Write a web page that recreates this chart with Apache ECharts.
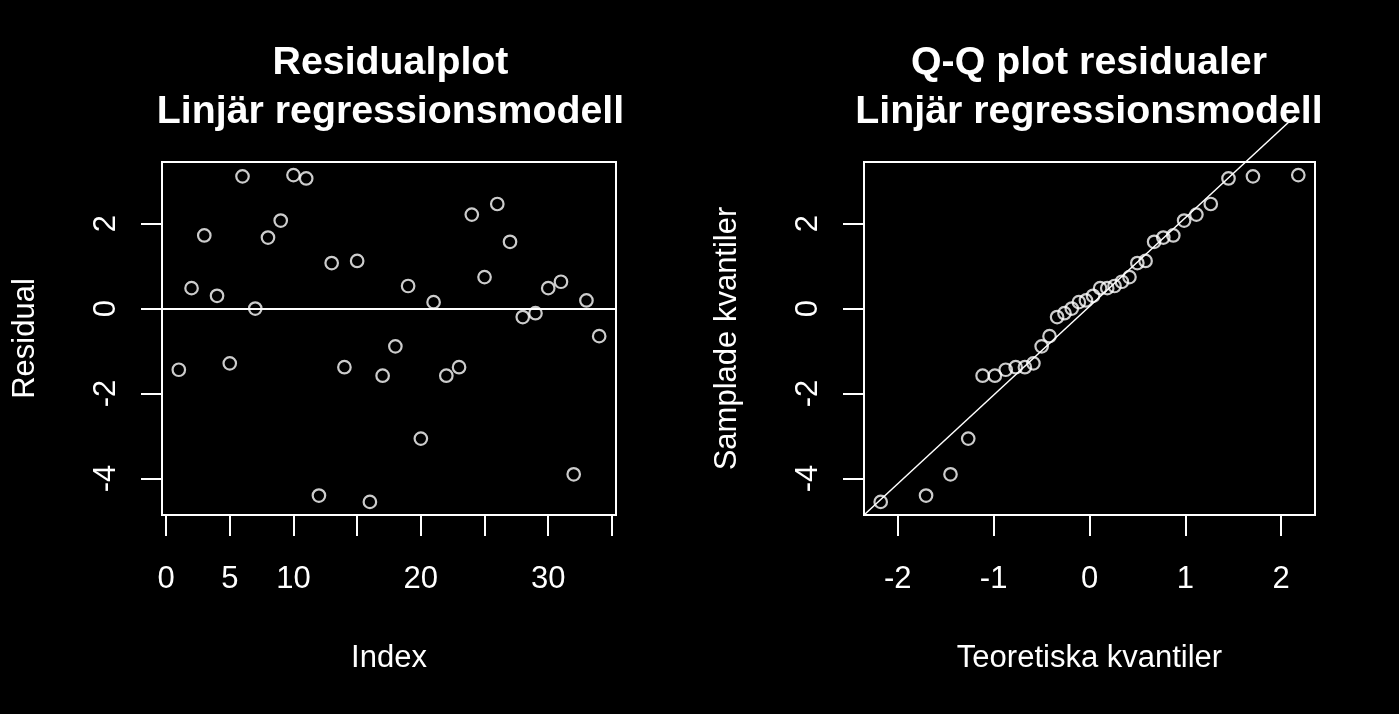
<!DOCTYPE html>
<html>
<head>
<meta charset="utf-8">
<script src="https://cdn.jsdelivr.net/npm/echarts@6/dist/echarts.min.js"></script>
<style>
html,body{margin:0;padding:0;background:#000;}
#chart{width:1399px;height:714px;}
</style>
</head>
<body>
<div id="chart"></div>
<script>
// ---- data ----
var residuals = [-1.44, 0.48, 1.72, 0.30, -1.29, 3.11, 0.00, 1.67, 2.07, 3.14,
                 3.06, -4.40, 1.07, -1.38, 1.12, -4.55, -1.58, -0.89, 0.53, -3.06,
                 0.15, -1.58, -1.38, 2.21, 0.74, 2.46, 1.57, -0.20, -0.11, 0.48,
                 0.63, -3.90, 0.19, -0.65];
var theoreticalQuantiles = [-2.178, -1.705, -1.450, -1.265, -1.115, -0.987, -0.874, -0.770, -0.674, -0.585,
                            -0.499, -0.417, -0.338, -0.261, -0.185, -0.111, -0.037, 0.037, 0.111, 0.185,
                            0.261, 0.338, 0.417, 0.499, 0.585, 0.674, 0.770, 0.874, 0.987, 1.115,
                            1.265, 1.450, 1.705, 2.178];
var indexTicks = [0, 5, 10, 15, 20, 25, 30, 35];
var indexLabels = [0, 5, 10, 20, 30];
var residTicks = [-4, -2, 0, 2];
var qqXTicks = [-2, -1, 0, 1, 2];
var qqLineXEnd = 2.15;
var leftTitle = 'Residualplot\nLinjär regressionsmodell';
var rightTitle = 'Q-Q plot residualer\nLinjär regressionsmodell';

// ---- derived ----
function ext(lo, hi) { var r = hi - lo; return [lo - 0.04 * r, hi + 0.04 * r]; }
var n = residuals.length;
var idxRange = ext(1, n);
var yRange = ext(Math.min.apply(null, residuals), Math.max.apply(null, residuals));
var qxRange = ext(theoreticalQuantiles[0], theoreticalQuantiles[n - 1]);
var sorted = residuals.slice().sort(function (a, b) { return a - b; });
function q7(arr, p) { var h = (arr.length - 1) * p; var lo = Math.floor(h); return arr[lo] + (h - lo) * (arr[lo + 1] - arr[lo]); }
var yq1 = q7(sorted, 0.25), yq3 = q7(sorted, 0.75);
var zq = 0.6745;
var slope = (yq3 - yq1) / (2 * zq);
var intercept = yq1 + slope * zq;
var qqLine = [[qxRange[0], intercept + slope * qxRange[0]], [qqLineXEnd, intercept + slope * qqLineXEnd]];

var resData = residuals.map(function (v, i) { return [i + 1, v]; });
var qqData = sorted.map(function (v, i) { return [theoreticalQuantiles[i], v]; });

var FONT = '"Liberation Sans", Arial, Helvetica, sans-serif';
var W = '#ffffff';

function xAxisCfg(gi, range, ticks, labels, name) {
  return {
    type: 'value', gridIndex: gi, min: range[0], max: range[1], position: 'bottom',
    axisLine: { show: false, onZero: false },
    splitLine: { show: false },
    axisTick: { show: true, inside: false, length: 21, customValues: ticks, lineStyle: { color: W, width: 2 } },
    axisLabel: { show: true, customValues: labels, color: W, fontFamily: FONT, fontSize: 31, lineHeight: 31, margin: 49 },
    name: name, nameLocation: 'middle', nameGap: 128,
    nameTextStyle: { color: W, fontFamily: FONT, fontSize: 31, lineHeight: 31 }
  };
}
function yAxisCfg(gi, range, ticks, name) {
  return {
    type: 'value', gridIndex: gi, min: range[0], max: range[1], position: 'left',
    axisLine: { show: false, onZero: false },
    splitLine: { show: false },
    axisTick: { show: true, inside: false, length: 21, customValues: ticks, lineStyle: { color: W, width: 2 } },
    axisLabel: { show: true, customValues: ticks, rotate: 90, color: W, fontFamily: FONT, fontSize: 31, lineHeight: 31, margin: 40 },
    name: name, nameLocation: 'middle', nameGap: 121, nameRotate: 90,
    nameTextStyle: { color: W, fontFamily: FONT, fontSize: 31, lineHeight: 31 }
  };
}

var pointStyle = { color: 'rgba(0,0,0,0)', borderColor: W, borderWidth: 2.2 };

var chart = echarts.init(document.getElementById('chart'), null, { renderer: 'canvas' });
chart.setOption({
  backgroundColor: '#000000',
  animation: false,
  title: [
    { text: leftTitle, left: 390.5, top: 39, padding: 0, textAlign: 'center',
      textStyle: { color: W, fontFamily: FONT, fontWeight: 'bold', fontSize: 39.3, lineHeight: 49, align: 'center' } },
    { text: rightTitle, left: 1089, top: 39, padding: 0, textAlign: 'center',
      textStyle: { color: W, fontFamily: FONT, fontWeight: 'bold', fontSize: 39.3, lineHeight: 49, align: 'center' } }
  ],
  grid: [
    { left: 162, top: 162, width: 454, height: 353, show: true, borderColor: W, borderWidth: 2, backgroundColor: 'transparent', containLabel: false, outerBoundsMode: 'none' },
    { left: 864, top: 162, width: 451, height: 353, show: true, borderColor: W, borderWidth: 2, backgroundColor: 'transparent', containLabel: false, outerBoundsMode: 'none' }
  ],
  xAxis: [
    xAxisCfg(0, idxRange, indexTicks, indexLabels, 'Index'),
    xAxisCfg(1, qxRange, qqXTicks, qqXTicks, 'Teoretiska kvantiler')
  ],
  yAxis: [
    yAxisCfg(0, yRange, residTicks, 'Residual'),
    yAxisCfg(1, yRange, residTicks, 'Samplade kvantiler')
  ],
  series: [
    { type: 'scatter', xAxisIndex: 0, yAxisIndex: 0, data: resData, symbol: 'circle', symbolSize: 12.5,
      itemStyle: pointStyle, silent: true,
      markLine: { silent: true, symbol: ['none', 'none'], label: { show: false },
        lineStyle: { color: W, width: 2, type: 'solid' }, data: [{ yAxis: 0 }] } },
    { type: 'scatter', xAxisIndex: 1, yAxisIndex: 1, data: qqData, symbol: 'circle', symbolSize: 12.5,
      itemStyle: pointStyle, silent: true },
    { type: 'line', xAxisIndex: 1, yAxisIndex: 1, data: qqLine, symbol: 'none', clip: false,
      lineStyle: { color: W, width: 1.5 }, silent: true }
  ]
});
</script>
</body>
</html>
